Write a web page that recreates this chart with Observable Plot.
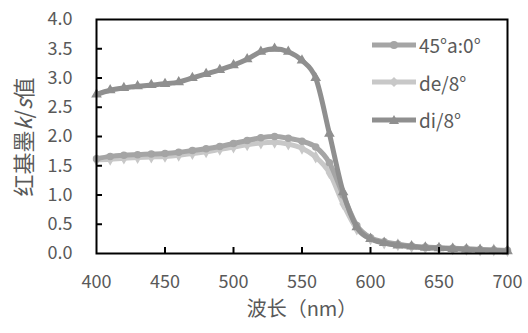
<!DOCTYPE html>
<html>
<head>
<meta charset="utf-8">
<script src="https://cdn.jsdelivr.net/npm/d3@7"></script>
<script src="https://cdn.jsdelivr.net/npm/@observablehq/plot@0.6"></script>
<style>
  html, body { margin: 0; padding: 0; background: #fff; }
  #wrap { position: relative; width: 528px; height: 333px; overflow: hidden;
          font-family: "Noto Sans CJK SC", "Open Sans", sans-serif; color: #595959; }
  #ytitle { position: absolute; left: 22px; top: 137px; transform: translate(-50%, -50%) rotate(-90deg);
            white-space: nowrap; font-size: 22px; color: #595959; }
  #legend { position: absolute; left: 372px; top: 26px; font-size: 19px; color: #595959; }
  .row { display: flex; align-items: center; height: 37.5px; }
  .row svg { margin-right: 3px; }
</style>
</head>
<body>
<div id="wrap">
  <div id="chart"></div>
  <div id="ytitle">红基墨<i>k</i>/<i>s</i>值</div>
  <div id="legend"></div>
</div>
<script>
const wavelengths = [400,410,420,430,440,450,460,470,480,490,500,510,520,530,540,550,560,570,580,590,600,610,620,630,640,650,660,670,680,690,700];
const seriesNames = ["45°a:0°", "de/8°", "di/8°"];
const series45a0 = [1.62,1.66,1.68,1.69,1.70,1.71,1.73,1.76,1.79,1.83,1.88,1.93,1.98,2.00,1.97,1.92,1.82,1.55,1.00,0.48,0.27,0.20,0.16,0.13,0.11,0.10,0.09,0.08,0.07,0.06,0.05];
const seriesDe8 = [1.60,1.61,1.63,1.64,1.65,1.66,1.68,1.71,1.74,1.78,1.82,1.86,1.89,1.90,1.87,1.80,1.65,1.38,0.85,0.42,0.25,0.18,0.15,0.12,0.10,0.09,0.08,0.07,0.06,0.06,0.05];
const seriesDi8 = [2.72,2.79,2.83,2.86,2.88,2.90,2.93,3.00,3.07,3.14,3.22,3.32,3.45,3.50,3.45,3.30,3.00,2.05,1.05,0.45,0.25,0.18,0.14,0.12,0.10,0.09,0.08,0.07,0.06,0.05,0.04];
const xTicks = [400,450,500,550,600,650,700];
const yTicks = [0,0.5,1,1.5,2,2.5,3,3.5,4];
const xTitle = "波长（nm）";

const colors = {"45°a:0°": "#a5a5a5", "de/8°": "#c8c8c8", "di/8°": "#8f8f8f"};
const symbols = {"45°a:0°": "circle", "de/8°": "diamond", "di/8°": "triangle"};
const drawOrder = ["de/8°", "45°a:0°", "di/8°"];
const valuesByName = {"45°a:0°": series45a0, "de/8°": seriesDe8, "di/8°": seriesDi8};

const rows = [];
for (const name of seriesNames) {
  valuesByName[name].forEach((v, i) => rows.push({name, x: wavelengths[i], y: v}));
}

const W = 528, H = 333, mL = 96, mR = 21, mT = 19, mB = 80;
const pw = W - mL - mR, ph = H - mT - mB;

const marks = [];
for (const name of drawOrder) {
  const d = rows.filter(r => r.name === name);
  marks.push(Plot.line(d, {x: "x", y: "y", stroke: colors[name], strokeWidth: 5, curve: "monotone-x"}));
  marks.push(Plot.dot(d, {x: "x", y: "y", fill: colors[name], stroke: colors[name], symbol: symbols[name], r: 3}));
}

const chart = Plot.plot({
  width: W, height: H,
  marginLeft: mL, marginRight: mR, marginTop: mT, marginBottom: mB,
  style: {fontFamily: '"Noto Sans CJK SC", "Open Sans", sans-serif', fontSize: "18px", color: "#595959", background: "#fff"},
  x: {domain: [400, 700]},
  y: {domain: [0, 4]},
  marks: [
    ...marks,
    Plot.tickX(xTicks.slice(1, -1), {x: d => d, stroke: "#000", strokeWidth: 2, insetTop: ph - 6}),
    Plot.tickY(yTicks.slice(1, -1), {y: d => d, stroke: "#000", strokeWidth: 2, insetRight: pw - 6}),
    Plot.frame({stroke: "#000", strokeWidth: 2}),
    Plot.axisX(xTicks, {tickSize: 0, tickPadding: 22, tickFormat: d => String(d), fill: "#595959", fontSize: 18, label: null}),
    Plot.axisY(yTicks, {tickSize: 0, tickPadding: 24, tickFormat: d3.format(".1f"), fill: "#595959", fontSize: 18, label: null}),
    Plot.text([xTitle], {frameAnchor: "bottom", dy: 62, fill: "#595959", fontSize: 20, text: d => d})
  ]
});
document.getElementById("chart").appendChild(chart);

const legend = document.getElementById("legend");
for (const name of seriesNames) {
  const row = document.createElement("div");
  row.className = "row";
  const c = colors[name];
  let marker;
  if (symbols[name] === "circle") marker = `<circle cx="22" cy="10" r="4" fill="${c}"/>`;
  else if (symbols[name] === "diamond") marker = `<path d="M22 5 L27 10 L22 15 L17 10 Z" fill="${c}"/>`;
  else marker = `<path d="M22 5 L27 14 L17 14 Z" fill="${c}"/>`;
  row.innerHTML = `<svg width="44" height="20"><line x1="0" y1="10" x2="44" y2="10" stroke="${c}" stroke-width="5"/>${marker}</svg><span>${name}</span>`;
  legend.appendChild(row);
}
</script>
</body>
</html>
